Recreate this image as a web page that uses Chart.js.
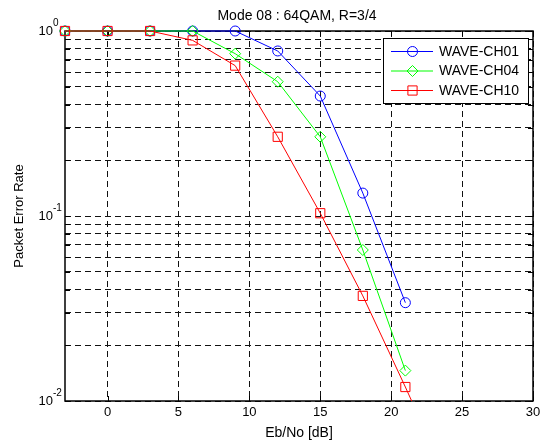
<!DOCTYPE html>
<html>
<head>
<meta charset="utf-8">
<title>Mode 08 : 64QAM, R=3/4</title>
<script src="https://cdn.jsdelivr.net/npm/chart.js@4.4.1/dist/chart.umd.min.js"></script>
<style>
  html, body { margin: 0; background: #fff; }
  canvas { display: block; }
</style>
</head>
<body>
<canvas id="per" width="549" height="440"></canvas>
<script>
// Eb/No sweep [dB]
const ebno = [-3, 0, 3, 6, 9, 12, 15, 18, 21];
const ebnoCh10 = [-3, 0, 3, 6, 9, 12, 15, 18, 21, 24];

// packet error rate for each channel model
const perCh01 = [1, 1, 1, 1, 1, 0.78, 0.445, 0.133, 0.034];
const perCh04 = [1, 1, 1, 1, 0.754, 0.532, 0.268, 0.0655, 0.0146];
const perCh10 = [1, 1, 1, 0.89, 0.65, 0.268, 0.1035, 0.037, 0.0119, 0.0037];

const seriesNames = ['WAVE-CH01', 'WAVE-CH04', 'WAVE-CH10'];

const xTicks = [0, 5, 10, 15, 20, 25, 30];
const yTicks = [0.01, 0.02, 0.03, 0.04, 0.05, 0.06, 0.07, 0.08, 0.09,
                0.1, 0.2, 0.3, 0.4, 0.5, 0.6, 0.7, 0.8, 0.9, 1];
const yDecades = [1, 0.1, 0.01];
const yDecadeExp = ['0', '-1', '-2'];

const FONT = "'Liberation Sans', Arial, sans-serif";

const toPoints = (xs, ys) => xs.map((v, i) => ({ x: v, y: ys[i] }));

function lineSet(label, xs, ys, color, style, radius, order) {
    return {
        label: label,
        data: toPoints(xs, ys),
        borderColor: color,
        backgroundColor: 'transparent',
        borderWidth: 1,
        pointStyle: style,
        pointRadius: radius,
        pointBorderWidth: 1,
        pointBorderColor: color,
        pointBackgroundColor: 'transparent',
        tension: 0,
        order: order,
        clip: { left: 10, right: 10, top: 10, bottom: 0 }
    };
}

function drawMarker(ctx, style, x, y, r) {
    ctx.beginPath();
    if (style === 'circle') {
        ctx.arc(x, y, r, 0, Math.PI * 2);
    } else if (style === 'rectRot') {
        ctx.moveTo(x - r, y); ctx.lineTo(x, y - r);
        ctx.lineTo(x + r, y); ctx.lineTo(x, y + r);
        ctx.closePath();
    } else {
        const s = r * Math.SQRT1_2;
        ctx.rect(x - s, y - s, 2 * s, 2 * s);
    }
    ctx.stroke();
}

// box, inward ticks, title, exponent labels and boxed legend
const matlabAxes = {
    id: 'matlabAxes',
    beforeDatasetsDraw(chart) {
        const { ctx, chartArea: a, scales: { x, y } } = chart;
        ctx.save();
        ctx.strokeStyle = '#000';
        ctx.lineWidth = 1;
        ctx.beginPath();
        xTicks.forEach(v => {
            const px = Math.round(x.getPixelForValue(v)) + 0.5;
            ctx.moveTo(px, a.bottom); ctx.lineTo(px, a.bottom - 5);
            ctx.moveTo(px, a.top); ctx.lineTo(px, a.top + 5);
        });
        yTicks.forEach(v => {
            const py = Math.round(y.getPixelForValue(v)) + 0.5;
            ctx.moveTo(a.left, py); ctx.lineTo(a.left + 5, py);
            ctx.moveTo(a.right, py); ctx.lineTo(a.right - 5, py);
        });
        ctx.stroke();
        ctx.lineWidth = 1.5;
        ctx.strokeRect(a.left, a.top, a.right - a.left, a.bottom - a.top);
        ctx.restore();
    },
    afterDraw(chart) {
        const { ctx, chartArea: a, scales: { y } } = chart;
        ctx.save();
        ctx.fillStyle = '#000';

        // title
        ctx.font = '14px ' + FONT;
        ctx.textAlign = 'center';
        ctx.textBaseline = 'alphabetic';
        ctx.fillText('Mode 08 : 64QAM, R=3/4', (a.left + a.right) / 2 - 2, 20);

        // decade labels 10^n
        yDecades.forEach((v, i) => {
            const py = y.getPixelForValue(v);
            ctx.font = '13px ' + FONT;
            ctx.textAlign = 'right';
            ctx.textBaseline = 'middle';
            ctx.fillText('10', a.left - 12, py);
            ctx.font = '10px ' + FONT;
            ctx.textAlign = 'left';
            ctx.fillText(yDecadeExp[i], a.left - 12, py - 8);
        });

        // legend
        const sets = chart.data.datasets;
        const bx = a.right - 150, by = a.top + 7, bw = 145, bh = 65;
        ctx.fillStyle = '#fff';
        ctx.fillRect(bx, by, bw, bh);
        ctx.strokeStyle = '#000';
        ctx.lineWidth = 1;
        ctx.strokeRect(bx + 0.5, by + 0.5, bw, bh);
        seriesNames.forEach((name, i) => {
            const ds = sets.find(d => d.label === name);
            const ry = by + 13.5 + i * 19.5;
            ctx.strokeStyle = ds.borderColor;
            ctx.lineWidth = 1;
            ctx.beginPath();
            ctx.moveTo(bx + 8, ry); ctx.lineTo(bx + 50, ry);
            ctx.stroke();
            drawMarker(ctx, ds.pointStyle, bx + 29.5, ry, ds.pointRadius);
            ctx.fillStyle = '#000';
            ctx.font = '14px ' + FONT;
            ctx.textAlign = 'left';
            ctx.textBaseline = 'middle';
            ctx.fillText(name, bx + 56, ry + 0.5);
        });
        ctx.restore();
    }
};

new Chart(document.getElementById('per'), {
    type: 'line',
    data: {
        datasets: [
            lineSet(seriesNames[0], ebno, perCh01, '#0000ff', 'circle', 5, 2),
            lineSet(seriesNames[1], ebno, perCh04, '#00ff00', 'rectRot', 5.5, 1),
            lineSet(seriesNames[2], ebnoCh10, perCh10, '#ff0000', 'rect', 6.5, 0)
        ]
    },
    options: {
        responsive: false,
        animation: false,
        layout: { padding: { top: 31, right: 16, bottom: 0, left: 0 } },
        plugins: {
            legend: { display: false },
            title: { display: false },
            tooltip: { enabled: false }
        },
        scales: {
            x: {
                type: 'linear',
                min: -3,
                max: 30,
                afterBuildTicks: s => { s.ticks = xTicks.map(v => ({ value: v })); },
                afterFit: s => { s.height = 39; },
                ticks: {
                    padding: 4,
                    color: '#000',
                    font: { family: FONT, size: 13 }
                },
                grid: { color: '#111', lineWidth: 1, drawTicks: false },
                border: { display: false, dash: [6, 4] },
                title: {
                    display: true,
                    text: 'Eb/No [dB]',
                    color: '#000',
                    font: { family: FONT, size: 14, lineHeight: 1 },
                    padding: { top: 0, bottom: 0 }
                }
            },
            y: {
                type: 'logarithmic',
                min: 0.01,
                max: 1,
                afterBuildTicks: s => { s.ticks = yTicks.map(v => ({ value: v })); },
                afterFit: s => { s.width = 65; },
                ticks: { display: false },
                grid: { color: '#111', lineWidth: 1, drawTicks: false },
                border: { display: false, dash: [6, 4] },
                title: {
                    display: true,
                    text: 'Packet Error Rate',
                    color: '#000',
                    font: { family: FONT, size: 13, lineHeight: 1.2 },
                    padding: { top: 12, bottom: 0 }
                }
            }
        }
    },
    plugins: [matlabAxes]
});
</script>
</body>
</html>
